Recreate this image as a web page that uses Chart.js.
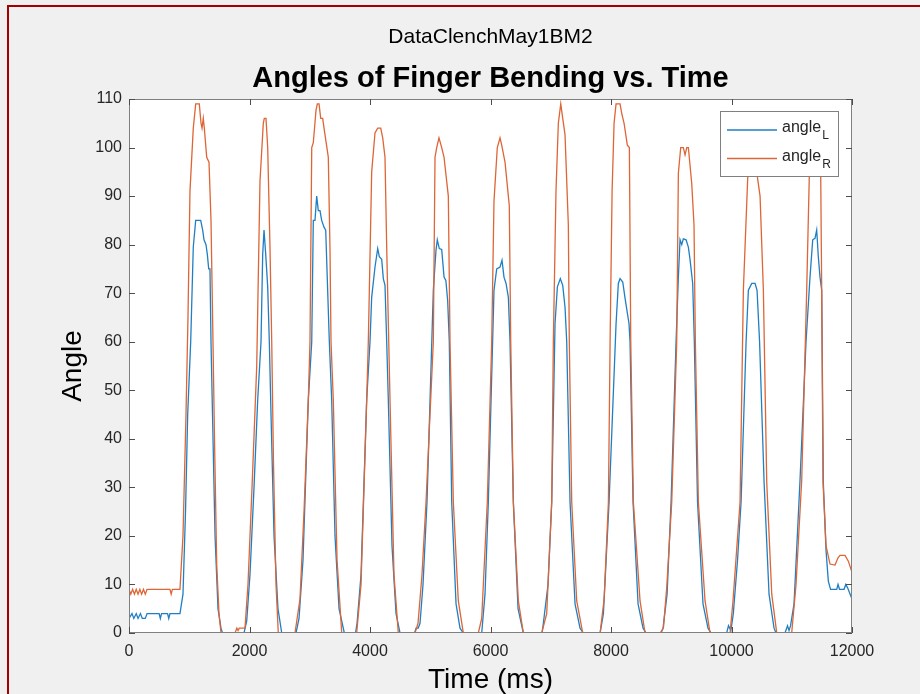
<!DOCTYPE html>
<html>
<head>
<meta charset="utf-8">
<title>DataClenchMay1BM2</title>
<script src="https://cdn.jsdelivr.net/npm/chart.js@4.4.1/dist/chart.umd.min.js"></script>
<style>
  html, body { margin: 0; padding: 0; background: #f0f0f0; }
  canvas { display: block; }
</style>
</head>
<body>
<canvas id="myChart" width="920" height="694"></canvas>
<script>
/* values: time in ms, angle in degrees */

const timesL = [0, 50, 80, 120, 150, 190, 220, 270, 300, 500, 520, 540, 640, 660, 680, 846,
  896, 938, 974, 1024, 1067, 1107, 1190, 1223, 1245, 1278, 1300, 1323, 1344, 1361, 1386, 1428, 1477, 1527, 1552,
  1909, 1954, 2008, 2075, 2136, 2191, 2219, 2241, 2269, 2302, 2329, 2357, 2407, 2473, 2535,
  2772, 2822, 2888, 2976, 3033, 3059, 3087, 3115, 3142, 3170, 3198, 3237, 3265, 3292, 3325, 3364, 3419, 3486, 3574,
  3760, 3785, 3851, 3945, 4000, 4028, 4083, 4128, 4155, 4194, 4221, 4249, 4277, 4304, 4365, 4432, 4498,
  4740, 4765, 4800, 4830, 4880, 4946, 5051, 5095, 5117, 5150, 5190, 5229, 5259, 5289, 5316, 5356, 5428, 5494, 5549,
  5854, 5909, 5964, 6058, 6103, 6158, 6191, 6224, 6258, 6296, 6324, 6379, 6457, 6545,
  6856, 6877, 6955, 7016, 7071, 7110, 7159, 7199, 7237, 7265, 7320, 7403, 7486, 7541,
  7819, 7874, 7968, 8084, 8122, 8150, 8195, 8233, 8299, 8316, 8366, 8449, 8532, 8582,
  8831, 8864, 8931, 8997, 9080, 9118, 9146, 9174, 9201, 9246, 9284, 9311, 9356, 9383, 9436, 9527, 9610, 9660,
  9920, 9950, 9990, 10030, 10100, 10159, 10242, 10280, 10336, 10391, 10424, 10466, 10541, 10623, 10706, 10739,
  10888, 10930, 10955, 10980, 11038, 11137, 11237, 11303, 11348, 11386, 11414, 11441, 11469, 11497, 11524, 11569,
  11607, 11644, 11747, 11768, 11793, 11868, 11897, 11927, 12000];

const angleL = [3, 4, 3, 4, 3, 4, 3, 3, 4, 4, 3, 4, 4, 3, 4, 4,
  8, 25, 45, 60, 79.5, 85, 85, 83, 81, 80, 78, 75, 75, 60, 45, 20, 5, 1, 0,
  0, 2.5, 12, 30, 48, 60, 78, 83, 78, 71.3, 60, 45, 20, 5, 0,
  0, 3, 15, 48, 60, 85, 85, 90, 87, 87, 85, 83.6, 83, 72.6, 60, 48, 20, 5, 0,
  0, 2, 12, 48, 60, 69.2, 75.4, 79.2, 77.5, 77, 73, 71.6, 60, 48, 18, 4, 0,
  0, 1, 1, 2, 10, 27, 70.6, 78.8, 81, 79.2, 79, 73.3, 72.6, 68.5, 60, 27, 6, 1, 0,
  0, 8, 27, 70.6, 75, 75.4, 76.8, 73.3, 72, 69.2, 60, 27, 5, 0,
  0, 2, 10, 27, 63.7, 71.3, 73, 71.6, 67.1, 60, 27, 6, 1, 0,
  0, 4, 27, 63.7, 72, 73, 72.3, 69, 63.7, 60, 27, 6, 1, 0,
  0, 1, 8, 27, 60, 73.3, 81, 80, 81.2, 81, 79.5, 77, 72, 60, 27, 6, 1, 0,
  0, 1.5, 0.5, 4, 15, 27, 60, 70.6, 72, 72, 70.6, 60, 31, 8, 1, 0,
  0, 1.5, 0.5, 1.5, 6, 31.4, 60, 73.3, 81, 81.3, 83, 77.5, 73.3, 70.6, 31, 17,
  10.7, 9, 9, 10, 9, 9, 10, 9.3, 7];

const timesR = [0, 30, 60, 90, 120, 150, 180, 210, 240, 270, 300, 680, 700, 720, 846,
  896, 946, 979, 1012, 1067, 1107, 1167, 1195, 1212, 1233, 1250, 1290, 1328, 1361, 1394, 1419, 1456, 1494, 1527,
  1760, 1790, 1810, 1830, 1925, 1975, 2042, 2120, 2174, 2229, 2246, 2274, 2302, 2340, 2369, 2398, 2440, 2478,
  2755, 2838, 2905, 2976, 3004, 3033, 3059, 3104, 3126, 3154, 3182, 3215, 3237, 3308, 3336, 3353, 3391, 3453, 3531,
  3779, 3851, 3945, 3972, 4028, 4083, 4128, 4178, 4211, 4249, 4277, 4311, 4332, 4398, 4470,
  4747, 4797, 4863, 4930, 5051, 5079, 5107, 5145, 5190, 5229, 5300, 5328, 5383, 5466, 5549,
  5798, 5854, 5947, 6020, 6058, 6113, 6158, 6186, 6241, 6312, 6336, 6379, 6462, 6545,
  6850, 6933, 7016, 7043, 7087, 7126, 7166, 7199, 7237, 7292, 7308, 7348, 7431, 7531,
  7819, 7886, 7957, 7985, 8018, 8051, 8084, 8150, 8179, 8217, 8271, 8305, 8328, 8371, 8482, 8565,
  8814, 8870, 8925, 9008, 9091, 9118, 9157, 9201, 9229, 9257, 9284, 9340, 9378, 9400, 9450, 9561, 9644,
  9976, 10025, 10142, 10197, 10270, 10308, 10349, 10391, 10429, 10474, 10529, 10585, 10668, 10751,
  10999, 11071, 11165, 11248, 11291, 11336, 11386, 11436, 11481, 11497, 11519, 11569, 11635, 11718,
  11768, 11801, 11884, 11939, 12000];

const angleR = [9, 8, 9, 8, 9, 8, 9, 8, 9, 8, 9, 9, 8, 9, 9,
  20, 45, 65, 91, 104, 109, 109, 105, 104, 106, 104, 98, 97, 85, 60, 40, 14, 4, 0,
  0, 1, 0.5, 1, 1, 10, 30, 55, 93, 105, 106, 106, 100, 79.5, 60, 35, 10, 0,
  0, 7, 25, 48, 60, 100, 101, 107.7, 109, 109, 106, 106, 104, 98, 79, 60, 48, 15, 0,
  0, 10, 48, 60, 95, 103, 104, 104, 102, 98, 79.5, 60, 48, 12, 0,
  0, 2, 12, 27, 60, 98, 100, 102, 100, 98, 90, 60, 27, 6.6, 0,
  0, 3, 27, 60, 89, 100, 102, 100.5, 97, 88, 60, 27, 6.6, 0,
  0, 4, 27, 60, 91, 105, 109, 106, 102.6, 84, 60, 27, 6.6, 0,
  0, 7, 27, 60, 91, 105, 109, 109, 107, 105, 100.5, 100, 60, 27, 6.6, 0,
  0, 1, 9.4, 27, 60, 94.7, 100, 100, 98.5, 100, 100, 92.6, 84, 60, 27, 6.6, 0,
  0, 6.6, 27, 70.6, 94, 100, 104, 101, 94, 90, 70.6, 31, 8, 0,
  0, 10, 31.4, 70.6, 94, 101, 103, 100, 94, 70.6, 31, 18, 14.2, 14,
  15.5, 16, 16, 14.8, 12.5];

const xTickValues = [0, 2000, 4000, 6000, 8000, 10000, 12000];
const yTickValues = [0, 10, 20, 30, 40, 50, 60, 70, 80, 90, 100, 110];

const seriesLabels = ['angle_L', 'angle_R'];


function toPoints(times, values) {
  return times.map((t, i) => ({ x: t, y: values[i] }));
}

Chart.defaults.font.family = "'Liberation Sans', Arial, Helvetica, sans-serif";

// MATLAB style axes: grey page, white box, inward ticks, legend with subscripts
const matlabLook = {
  id: 'matlabLook',
  beforeDraw(chart) {
    const { ctx, chartArea: a } = chart;
    ctx.save();
    ctx.fillStyle = '#f0f0f0';
    ctx.fillRect(0, 0, chart.width, chart.height);
    ctx.fillStyle = '#ffffff';
    ctx.fillRect(a.left, a.top, a.right - a.left, a.bottom - a.top);
    ctx.fillStyle = '#a30000';
    ctx.fillRect(7, 5, chart.width - 7, 2);
    ctx.fillRect(7, 5, 2, chart.height - 5);
    ctx.restore();
  },
  afterDatasetsDraw(chart) {
    const { ctx, chartArea: a, scales } = chart;
    const tick = 6;
    ctx.save();
    ctx.lineWidth = 1;
    ctx.strokeStyle = '#808080';
    ctx.strokeRect(a.left + 0.5, a.top + 0.5, a.right - a.left - 1, a.bottom - a.top - 1);

    ctx.strokeStyle = '#4d4d4d';
    ctx.beginPath();
    xTickValues.forEach(v => {
      const px = Math.round(scales.x.getPixelForValue(v)) + 0.5;
      ctx.moveTo(px, a.bottom);
      ctx.lineTo(px, a.bottom - tick);
      ctx.moveTo(px, a.top);
      ctx.lineTo(px, a.top + tick);
    });
    yTickValues.forEach(v => {
      const py = Math.round(scales.y.getPixelForValue(v)) + 0.5;
      ctx.moveTo(a.left, py);
      ctx.lineTo(a.left + tick, py);
      ctx.moveTo(a.right, py);
      ctx.lineTo(a.right - tick, py);
    });
    ctx.stroke();

    // legend
    const lx = 720, ly = 111, lw = 118, lh = 65;
    ctx.fillStyle = '#ffffff';
    ctx.fillRect(lx, ly, lw, lh);
    ctx.strokeStyle = '#808080';
    ctx.strokeRect(lx + 0.5, ly + 0.5, lw, lh);
    chart.data.datasets.forEach((ds, i) => {
      const rowY = 130 + i * 28.5;
      ctx.strokeStyle = ds.borderColor;
      ctx.lineWidth = ds.borderWidth;
      ctx.beginPath();
      ctx.moveTo(727, rowY);
      ctx.lineTo(777, rowY);
      ctx.stroke();
      const parts = ds.label.split('_');
      ctx.fillStyle = '#262626';
      ctx.textBaseline = 'alphabetic';
      ctx.textAlign = 'left';
      ctx.font = "16px 'Liberation Sans', Arial, sans-serif";
      ctx.fillText(parts[0], 782, rowY + 2);
      const w = ctx.measureText(parts[0]).width;
      ctx.font = "12px 'Liberation Sans', Arial, sans-serif";
      ctx.fillText(parts[1], 782 + w + 1, rowY + 9);
    });
    ctx.restore();
  }
};

const ctx = document.getElementById('myChart').getContext('2d');
new Chart(ctx, {
  type: 'line',
  data: {
    datasets: [{
      label: seriesLabels[0],
      data: toPoints(timesL, angleL),
      borderColor: '#1f7fc4',
      borderWidth: 1.3,
      pointRadius: 0,
      tension: 0,
      order: 2
    }, {
      label: seriesLabels[1],
      data: toPoints(timesR, angleR),
      borderColor: '#de6535',
      borderWidth: 1.3,
      pointRadius: 0,
      tension: 0,
      order: 1
    }]
  },
  options: {
    responsive: false,
    animation: false,
    events: [],
    layout: { padding: { left: 0, right: 68, top: 0, bottom: 0 } },
    plugins: {
      legend: { display: false },
      tooltip: { enabled: false },
      title: {
        display: true,
        text: 'DataClenchMay1BM2',
        fullSize: false,
        color: '#000000',
        font: { size: 21, weight: 'normal' },
        padding: { top: 24.4, bottom: 0 }
      },
      subtitle: {
        display: true,
        text: 'Angles of Finger Bending vs. Time',
        fullSize: false,
        color: '#000000',
        font: { size: 29, weight: 'bold' },
        padding: { top: 12.4, bottom: 2.2 }
      }
    },
    scales: {
      x: {
        type: 'linear',
        min: 0,
        max: 12000,
        afterBuildTicks: scale => { scale.ticks = xTickValues.map(v => ({ value: v })); },
        afterFit: scale => { scale.height = 61; },
        grid: { display: false, drawTicks: false },
        border: { display: false },
        ticks: { color: '#262626', font: { size: 16 }, padding: 9, maxRotation: 0, autoSkip: false,
          callback: v => String(v) },
        title: { display: true, text: 'Time (ms)', color: '#000000', font: { size: 28 }, padding: { top: 0, bottom: -3 } }
      },
      y: {
        type: 'linear',
        min: 0,
        max: 110,
        afterBuildTicks: scale => { scale.ticks = yTickValues.map(v => ({ value: v })); },
        afterFit: scale => { scale.width = 129; },
        grid: { display: false, drawTicks: false },
        border: { display: false },
        ticks: { color: '#262626', font: { size: 16 }, padding: 7, callback: v => String(v) },
        title: { display: true, text: 'Angle', color: '#000000', font: { size: 28 }, padding: { top: 56, bottom: 0 } }
      }
    }
  },
  plugins: [matlabLook]
});
</script>
</body>
</html>
